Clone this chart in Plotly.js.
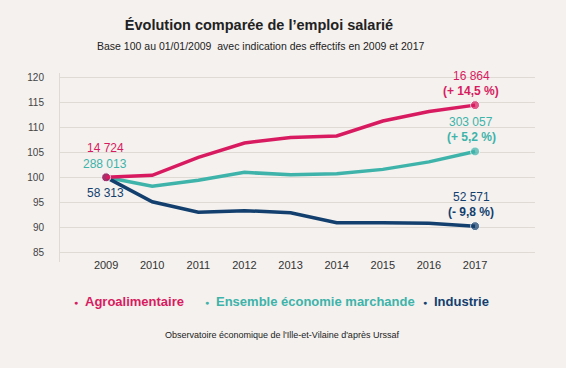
<!DOCTYPE html>
<html><head><meta charset="utf-8">
<script src="https://cdn.plot.ly/plotly-3.0.1.min.js"></script>
<style>html,body{margin:0;padding:0;background:#f4f1ee;}#chart{width:566px;height:368px;}</style>
</head><body><div id="chart"></div>
<script>
const years = [2009, 2010, 2011, 2012, 2013, 2014, 2015, 2016, 2017];
const agro = [100, 100.4, 104.0, 106.9, 108.0, 108.3, 111.3, 113.2, 114.5];
const ensemble = [100, 98.2, 99.4, 101.0, 100.5, 100.7, 101.6, 103.1, 105.2];
const industrie = [100, 95.1, 93.0, 93.3, 92.9, 90.9, 90.9, 90.8, 90.2];
const seriesNames = ["Agroalimentaire", "Ensemble économie marchande", "Industrie"];
const startLabels = ["14 724", "288 013", "58 313"];
const endLabels = ["16 864", "303 057", "52 571"];
const endPct = ["(+ 14,5 %)", "(+ 5,2 %)", "(- 9,8 %)"];
const yTicks = [85, 90, 95, 100, 105, 110, 115, 120];

const colors = ["#d81b60", "#3db3aa", "#123f6e"];
const FONT = '"Liberation Sans", Arial, sans-serif';
const vals = [agro, ensemble, industrie];
const n = years.length;
const sizes = years.map((_, i) => (i === 0 || i === n - 1) ? 9 : 0);

const traces = [1, 2, 0].map((k) => ({
  x: years, y: vals[k], type: 'scatter', mode: 'lines+markers',
  name: seriesNames[k],
  line: {color: colors[k], width: 3.5},
  marker: {color: colors[k], size: sizes},
  showlegend: false, hoverinfo: 'x+y'
}));

const annotations = [];
const startShift = [29, 13.5, -15.5];
for (let k = 0; k < 3; k++) {
  annotations.push({x: years[0], y: vals[k][0], xref: 'x', yref: 'y', text: startLabels[k],
    showarrow: false, yshift: startShift[k], xshift: -1, font: {family: FONT, size: 12, color: colors[k]}});
}
for (let k = 0; k < 3; k++) {
  annotations.push({x: years[n-1], y: vals[k][n-1], xref: 'x', yref: 'y', text: endLabels[k],
    showarrow: false, yshift: 29.5, xshift: -4, font: {family: FONT, size: 12, color: colors[k]}});
  annotations.push({x: years[n-1], y: vals[k][n-1], xref: 'x', yref: 'y', text: '<b>' + endPct[k] + '</b>',
    showarrow: false, yshift: 14, xshift: -4, font: {family: FONT, size: 12, color: colors[k]}});
}
// legend (dot + label per series)
const dotX = [76, 207, 425];
const txtX = [83, 214, 432];
const toPaperX = (px) => (px - 60) / 475;
for (let k = 0; k < 3; k++) {
  annotations.push({xref: 'paper', yref: 'paper', x: toPaperX(dotX[k]), y: -0.213, xanchor: 'center', yanchor: 'middle',
    showarrow: false, text: '●', font: {family: FONT, size: 7, color: colors[k]}});
  annotations.push({xref: 'paper', yref: 'paper', x: toPaperX(txtX[k]), y: -0.21, xanchor: 'left', yanchor: 'middle',
    showarrow: false, text: '<b>' + seriesNames[k] + '</b>', font: {family: FONT, size: 13, color: colors[k]}});
}
annotations.push({xref: 'paper', yref: 'paper', x: toPaperX(282), y: -0.386, yanchor: 'middle', xanchor: 'center', showarrow: false,
  text: "Observatoire économique de l'Ille-et-Vilaine d'après Urssaf", font: {family: FONT, size: 9, color: '#222'}});
annotations.push({xref: 'paper', yref: 'paper', x: toPaperX(260), y: 1 + (73 - 46) / 189, yanchor: 'middle', xanchor: 'center', showarrow: false,
  text: "Base 100 au 01/01/2009  avec indication des effectifs en 2009 et 2017",
  font: {family: FONT, size: 10.5, color: '#222'}});

const layout = {
  width: 566, height: 368,
  paper_bgcolor: '#f4f1ee', plot_bgcolor: '#f4f1ee',
  margin: {l: 60, r: 31, t: 73, b: 106},
  title: {text: '<b>Évolution comparée de l’emploi salarié</b>', x: 259 / 566, xanchor: 'center', y: 1 - 25 / 368, yanchor: 'middle',
    font: {family: FONT, size: 14.5, color: '#222'}},
  xaxis: {range: [2008, 2018.3], tickvals: years, ticktext: years.map(String), showgrid: false, zeroline: false,
    showline: false, tickfont: {family: FONT, size: 11, color: '#333'}, ticklabelstandoff: -5, fixedrange: true},
  yaxis: {range: [83, 120.95], tickvals: yTicks, ticktext: yTicks.map(String), showgrid: true, gridcolor: '#dfdad4', gridwidth: 1,
    zeroline: false, showline: true, linecolor: '#dfdad4', linewidth: 1,
    tickfont: {family: FONT, size: 10, color: '#444'}, ticklabelstandoff: 13, fixedrange: true},
  annotations: annotations,
  showlegend: false
};
Plotly.newPlot('chart', traces, layout, {displayModeBar: false, staticPlot: true});
</script></body></html>
